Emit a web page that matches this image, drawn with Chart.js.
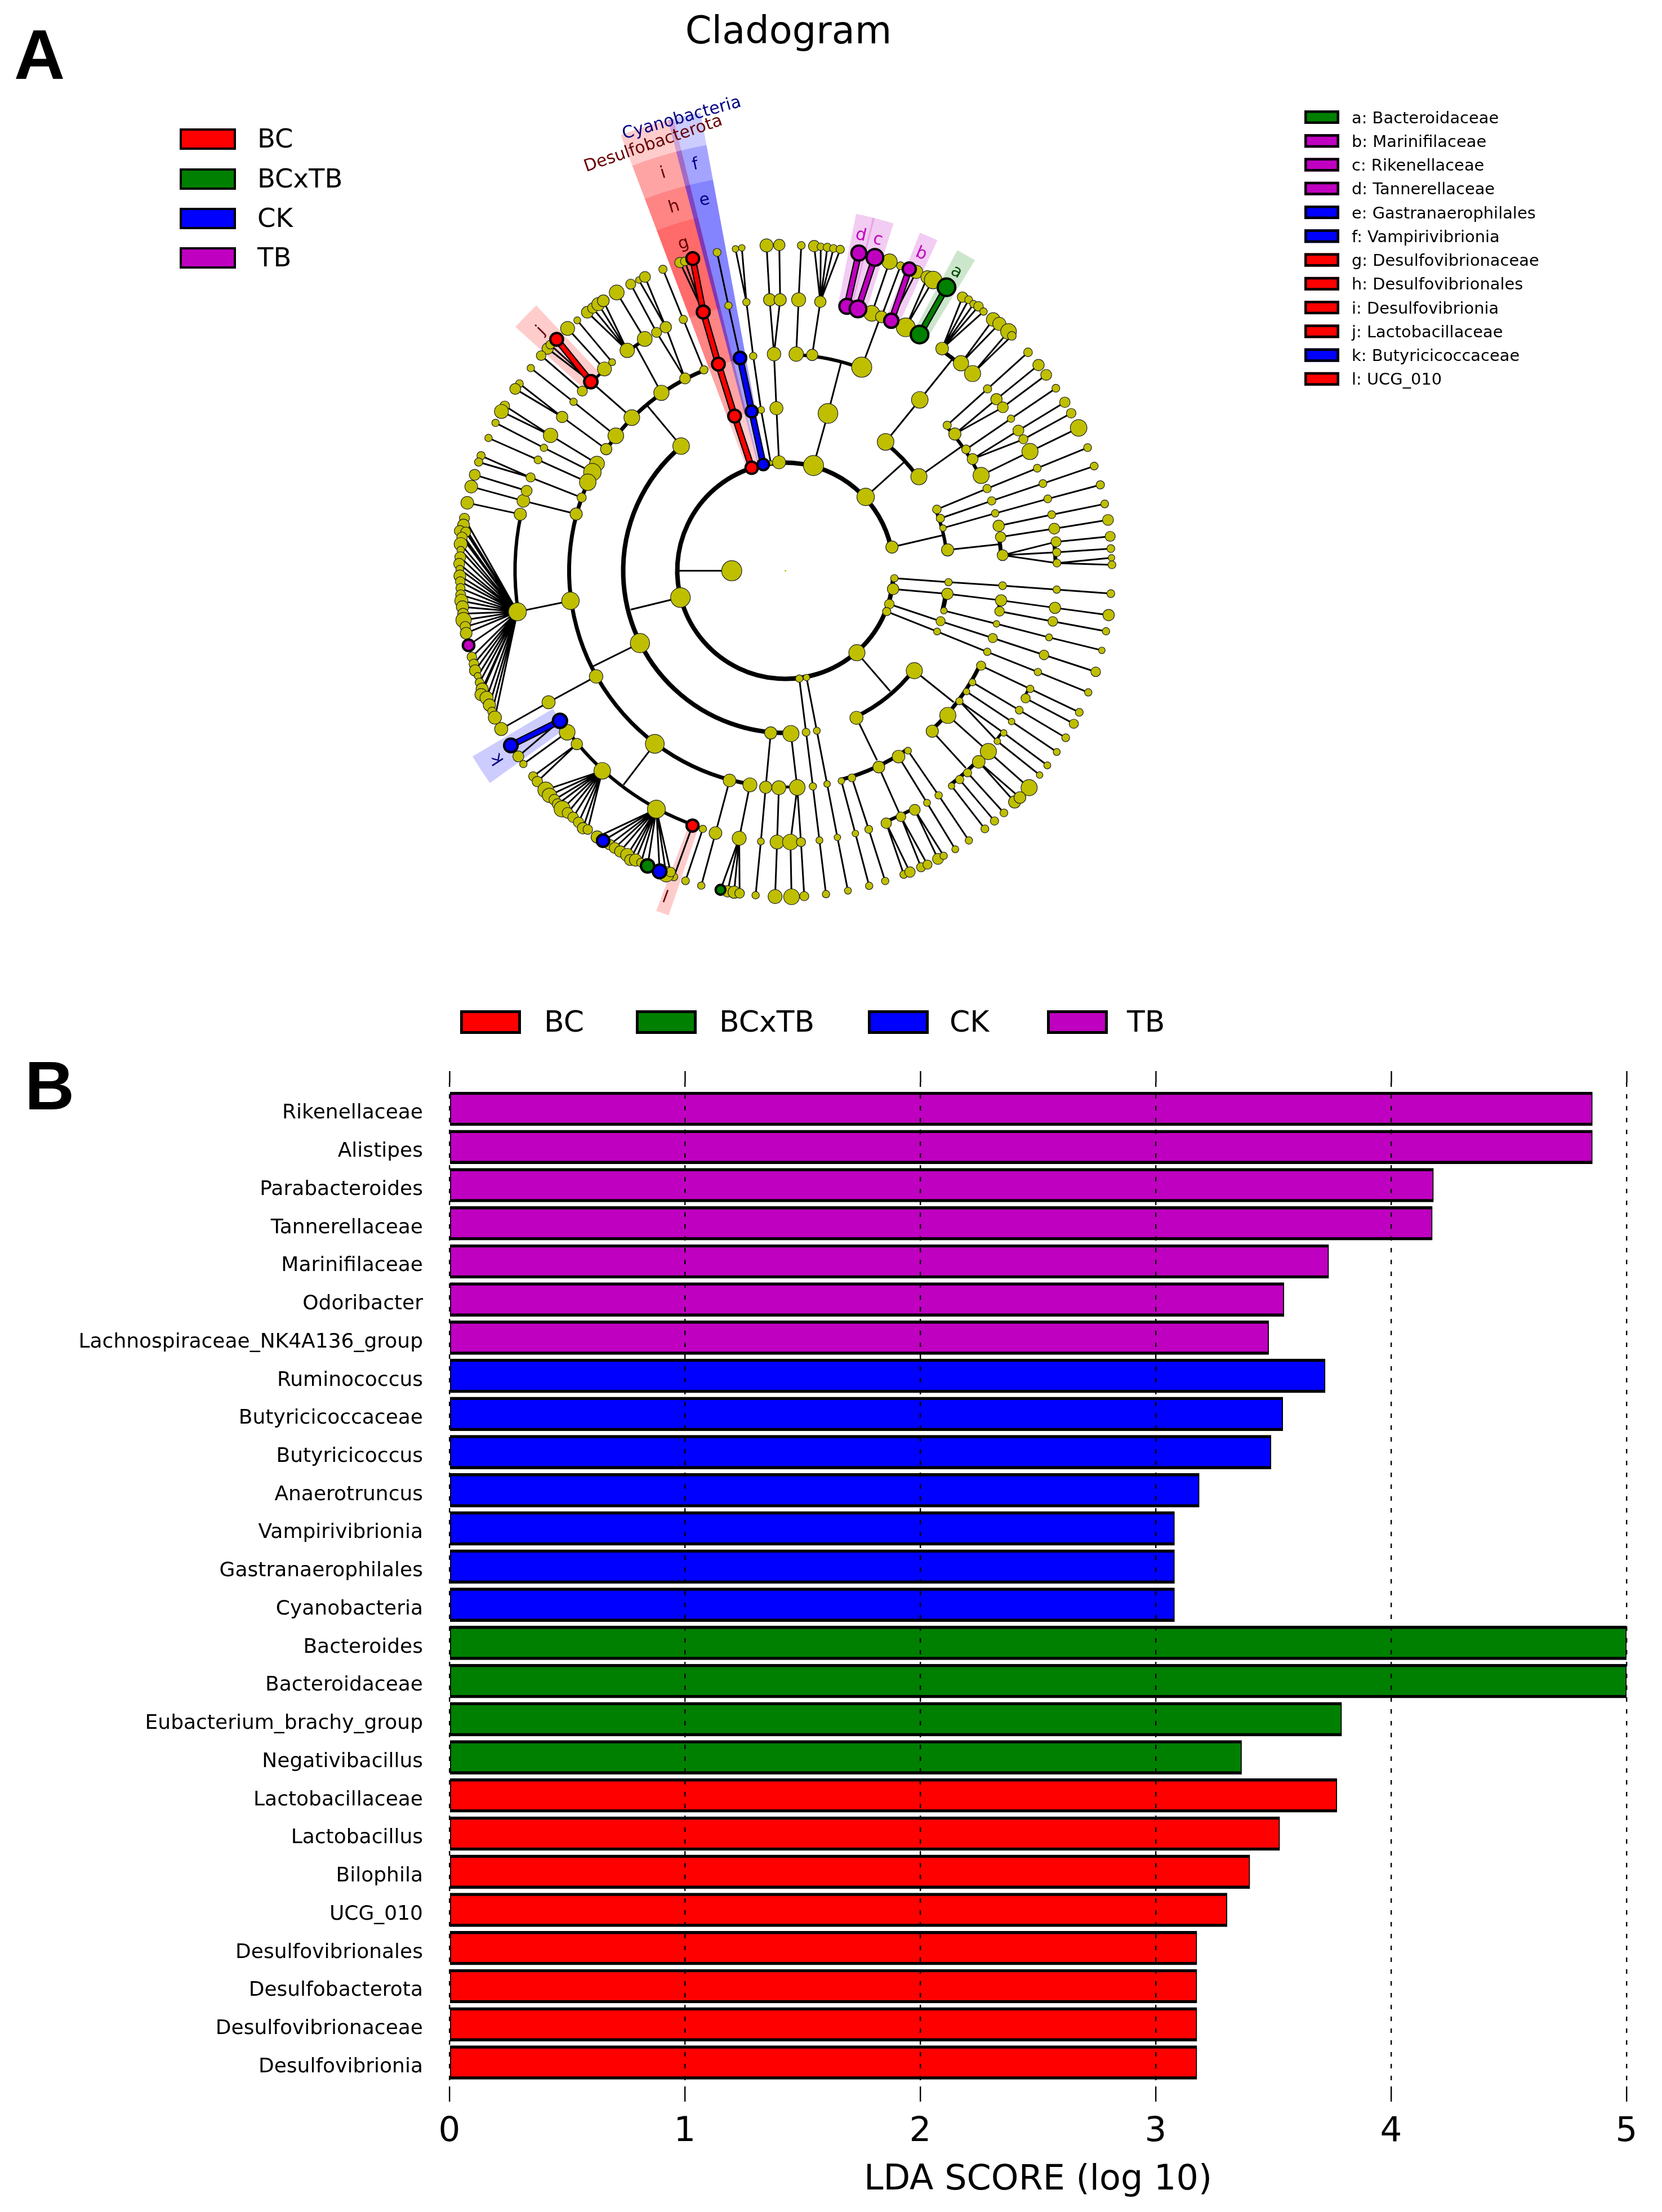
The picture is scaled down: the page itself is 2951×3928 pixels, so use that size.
<!DOCTYPE html>
<html>
<head>
<meta charset="utf-8">
<title>Cladogram and LDA scores</title>
<script src="https://cdn.jsdelivr.net/npm/chart.js@4/dist/chart.umd.js"></script>
<style>
  body { margin: 0; background: #fff; }
  canvas { position: absolute; left: 0; }
  #cladogram { top: 0; }
  #ldaBars { top: 1760px; }
</style>
</head>
<body>
<canvas id="cladogram" width="2951" height="1760"></canvas>
<canvas id="ldaBars" width="2951" height="2168"></canvas>
<script>
// ---- LDA bars ----
const tbTaxa = ["Rikenellaceae", "Alistipes", "Parabacteroides", "Tannerellaceae", "Marinifilaceae", "Odoribacter", "Lachnospiraceae_NK4A136_group"];
const tbScores = [4.855, 4.855, 4.18, 4.175, 3.735, 3.545, 3.48];
const ckTaxa = ["Ruminococcus", "Butyricicoccaceae", "Butyricicoccus", "Anaerotruncus", "Vampirivibrionia", "Gastranaerophilales", "Cyanobacteria"];
const ckScores = [3.72, 3.54, 3.49, 3.185, 3.08, 3.08, 3.08];
const bcxtbTaxa = ["Bacteroides", "Bacteroidaceae", "Eubacterium_brachy_group", "Negativibacillus"];
const bcxtbScores = [5.0, 5.0, 3.79, 3.365];
const bcTaxa = ["Lactobacillaceae", "Lactobacillus", "Bilophila", "UCG_010", "Desulfovibrionales", "Desulfobacterota", "Desulfovibrionaceae", "Desulfovibrionia"];
const bcScores = [3.77, 3.527, 3.4, 3.303, 3.175, 3.175, 3.175, 3.175];
const scoreTicks = [0, 1, 2, 3, 4, 5];

// ---- legends ----
const groupNames = ["BC", "BCxTB", "CK", "TB"];
const taxaKeyLabels = ["a: Bacteroidaceae", "b: Marinifilaceae", "c: Rikenellaceae", "d: Tannerellaceae", "e: Gastranaerophilales", "f: Vampirivibrionia", "g: Desulfovibrionaceae", "h: Desulfovibrionales", "i: Desulfovibrionia", "j: Lactobacillaceae", "k: Butyricicoccaceae", "l: UCG_010"];
const taxaKeyGroups = ["BCxTB", "TB", "TB", "TB", "CK", "CK", "BC", "BC", "BC", "BC", "CK", "BC"];

// ---- cladogram tree, read off four crops of panel A ----
// a node is [x, y, size] in crop units, size 0 is only a joint on a sibling arc
const nwPaths = [
  [[853,878,36],[666,714,34],[469,563,26]], [[666,714,34],[481,545,20]], [[627,757,23],[439,595,22]],
  [[728,656,32],[560,471,32]], [[763,625,16],[604,434,16]], [[780,961,36],[587,806,17],[392,652,17]],
  [[736,1022,26],[535,875,26],[340,723,18]], [[535,875,26],[321,747,25]],
  [[694,1088,34],[482,959,33],[273,824,22]], [[482,959,33],[258,850,32]],
  [[673,1127,40],[452,1016,17],[231,902,17]], [[652,1173,38],[425,1071,18],[199,971,17]],
  [[624,1243,21],[391,1151,21],[165,1052,19]], [[391,1151,21],[154,1081,19]],
  [[599,1318,28],[358,1258,29],[120,1193,29]], [[373,1212,25],[136,1139,25]], [[344,1319,28],[102,1267,29]],
  [[988,765,35],[870,548,0]], [[912,519,34],[784,307,34]],
  [[1096,699,25],[966,489,23],[848,269,23]], [[1096,699,25],[1008,465,26],[885,250,15]], [[1008,465,26],[913,236,25]],
  [[1182,660,19],[1088,430,19],[995,201,19]], [[1078,1008,38],[925,825,0]],
  [[1179,396,33],[1073,170,24]], [[1179,396,33],[1095,165,20]],
  [[1347,606,32],[1294,367,17],[1242,124,18]],
  [[1487,1085,10],[1443,843,16],[1407,597,17],[1376,351,17],[1326,108,15]], [[1376,351,17],[1355,103,15]],
  [[1525,1082,30],[1513,835,30],[1502,588,31],[1482,340,28],[1468,92,30]], [[1502,588,31],[1530,340,28],[1526,90,26]]
];
const nwFans = [
  [[832,571,33],[650,397,27],[675,378,24],[700,360,30],[723,345,27]]
];
const nePaths = [
  [[140,1097,46],[206,859,45],[265,630,0]], [[360,648,46],[437,440,0]], [[134,592,26],[171,349,26]],
  [[61,588,33],[72,340,32],[84,92,18]], [[378,1240,40],[555,1080,0]], [[469,989,38],[625,797,38],[775,610,0]],
  [[621,1148,37],[815,1010,0]],
  [[406,402,36],[487,166,35]], [[450,418,27],[537,185,18]], [[495,436,36],[609,213,30]],
  [[561,466,43],[660,237,30]], [[561,466,43],[686,250,40]],
  [[813,630,35],[960,430,31]], [[813,630,35],[988,450,30]], [[866,677,37],[1030,485,36]], [[866,677,37],[1045,505,20]],
  [[750,913,19],[934,747,19],[1119,580,20]], [[785,953,28],[975,794,26],[1167,638,26]], [[785,953,28],[1004,831,25],[1202,683,25]],
  [[836,1023,20],[1041,883,17],[1246,744,18]], [[866,1067,25],[1075,937,25],[1287,808,24]], [[866,1067,25],[1098,977,21],[1316,858,22]],
  [[905,1142,37],[1128,1033,37],[1350,925,38]],
  [[703,1297,20],[932,1202,19],[1161,1109,18],[1391,1015,18]], [[719,1338,19],[953,1258,19],[1187,1179,18],[1421,1099,18]],
  [[731,1382,15],[969,1315,17],[1209,1249,18],[1449,1185,19]],
  [[498,1469,28],[730,1415,0]], [[752,1482,28],[1000,1455,0]],
  [[985,1372,26],[1227,1321,18],[1469,1272,18]], [[994,1423,24],[1239,1385,25],[1484,1345,25]],
  [[1003,1506,25],[1247,1445,23],[1494,1420,23]], [[1003,1506,25],[1250,1493,19],[1497,1476,18]],
  [[1003,1506,25],[1251,1542,18],[1500,1518,15]], [[1251,1542,18],[1502,1550,18]]
];
const neFans = [
  [[171,349,26],[143,95,26],[173,98,17],[203,101,19],[231,106,18],[262,110,19]],
  [[727,563,29],[820,328,24],[848,340,18],[870,360,17],[893,370,22],[916,394,17]]
];
const swPaths = [
  [[1075,157,45],[848,212,0]], [[890,365,44],[678,470,0]], [[1309,35,46],[1060,35,0]], [[573,172,40],[331,222,41]],
  [[690,517,31],[473,635,30],[257,757,30]], [[958,825,43],[815,1012,0]],
  [[1487,775,28],[1464,1023,28]], [[1579,778,37],[1608,1024,36]],
  [[602,826,26],[403,973,21]], [[602,826,26],[422,997,24]], [[558,772,36],[358,917,17]], [[525,720,36],[335,882,25]],
  [[1130,1198,31],[1045,1432,18]], [[1177,1213,17],[1098,1450,18]],
  [[1299,992,29],[1235,1232,29],[1170,1472,17]], [[1392,1012,32],[1343,1256,32]],
  [[1464,1023,28],[1442,1270,16],[1418,1516,17]], [[1524,1025,32],[1516,1273,32],[1507,1522,32]],
  [[1608,1024,36],[1577,1273,36],[1582,1523,36]], [[1608,1024,36],[1625,1273,21],[1640,1520,21]]
];
const swFans = [
  [[331,222,41],[89,-205,23],[85,-174,27],[68,-147,25],[95,-142,23],[78,-118,24],[72,-87,30],[72,-60,17],[70,-27,25],[65,3,25],[68,28,18],[68,58,27],[70,84,22],[71,114,21],[72,145,23],[75,172,30],[80,200,28],[83,231,25],[85,260,35],[93,290,24],[97,320,27],[108,375,30],[123,428,22],[132,460,22],[138,490,26],[150,515,16],[158,545,20],[170,575,28],[165,600,28],[190,615,30],[203,648,28],[215,677,20],[228,705,30]],
  [[718,948,38],[460,1035,36],[477,1060,33],[500,1080,25],[515,1100,25],[535,1122,37],[560,1140,25],[585,1160,24],[610,1183,24],[630,1210,26],[652,1216,22]],
  [[965,1123,41],[695,1250,28],[722,1267,32],[752,1285,24],[775,1300,25],[800,1316,26],[832,1332,30],[845,1355,25],[870,1355,28],[895,1367,20],[925,1382,34],[980,1407,35],[1010,1420,35],[1030,1410,22]],
  [[1343,1256,32],[1258,1491,26],[1290,1498,26],[1320,1502,28],[1345,1507,22]]
];
const sePaths = [
  [[509,69,17],[756,87,17],[1003,103,18],[1250,121,17],[1497,139,18]],
  [[503,118,26],[751,140,26],[996,170,26],[1242,204,26],[1487,237,26]],
  [[735,217,15],[975,277,15],[1215,339,16],[1456,398,15]], [[989,220,22],[1232,266,22],[1475,311,17]],
  [[486,187,22],[720,265,21],[958,342,21],[1192,419,22],[1428,496,22]],
  [[474,221,19],[704,312,16],[933,405,17],[1164,497,17],[1394,590,17]],
  [[905,468,21],[1129,574,17],[1353,681,18]], [[1108,617,21],[1328,733,21]],
  [[865,544,16],[1079,671,18],[1291,797,18]], [[838,586,15],[1044,723,15],[1250,862,16]],
  [[806,630,17],[1008,775,15],[1207,923,16]], [[806,630,17],[979,813,15],[1172,967,15]],
  [[753,695,37],[938,860,37],[1124,1025,37]], [[682,767,28],[835,935,0]],
  [[894,907,29],[1058,1090,28]], [[894,907,29],[1082,1070,27]], [[843,957,19],[1009,1140,18]],
  [[807,988,19],[966,1177,19]], [[770,1017,15],[922,1213,18]],
  [[600,491,37],[780,635,0]], [[338,409,37],[490,585,0]], [[336,706,30],[430,900,0]],
  [[571,856,16],[711,1060,17],[849,1266,17]], [[528,883,29],[658,1094,16],[787,1306,16]],
  [[438,931,27],[539,1158,22]], [[472,1187,24],[552,1421,18]], [[472,1187,24],[580,1410,24]],
  [[539,1158,22],[631,1388,21]], [[539,1158,22],[660,1376,21]], [[602,1126,25],[708,1350,25]], [[602,1126,25],[734,1336,17]],
  [[315,980,18],[392,1215,18],[467,1451,17]], [[267,994,15],[331,1234,15],[394,1473,17]],
  [[108,522,15],[155,765,16],[202,1008,15],[249,1252,15],[297,1495,16]],
  [[75,527,17],[106,772,18],[137,1019,17],[167,1265,16],[197,1511,17]]
];
// enriched clades: [group, crop column, crop row, path]
const enrichedPaths = [
  ["BC", 0, 0, [[1400,1107,32],[1322,871,33],[1248,634,33],[1179,396,33],[1131,152,33]]],
  ["BC", 0, 0, [[666,714,34],[510,521,33]]],
  ["BC", 0, 1, [[1130,1198,31]]],
  ["CK", 0, 0, [[1453,1092,30],[1400,850,31],[1347,606,32]]],
  ["CK", 0, 1, [[525,720,36],[301,832,35]]],
  ["CK", 0, 1, [[722,1267,32]]],
  ["CK", 0, 1, [[980,1407,35]]],
  ["TB", 1, 0, [[292,370,38],[347,127,38]]],
  ["TB", 1, 0, [[343,382,42],[420,147,42]]],
  ["TB", 1, 0, [[495,436,36],[577,200,34]]],
  ["TB", 0, 1, [[108,375,30]]],
  ["BCxTB", 1, 0, [[624,499,44],[747,283,44]]],
  ["BCxTB", 0, 1, [[925,1382,34]]],
  ["BCxTB", 0, 1, [[1258,1491,26]]]
];
// sibling arcs: [ring radius, from degree, to degree, line width], degrees clockwise from 12 o'clock
const siblingArcs = [
  [192, 93.9, 437.5, 8], [288, 178, 320.1, 8], [288, 37.9, 54.8, 7], [288, 127.8, 154.2, 7], [288, 67.9, 82.7, 6], [288, 98.1, 104.1, 8],
  [384, 304.2, 337.9, 7], [384, 189.4, 299.6, 7], [384, 176.9, 183, 5], [384, 2.9, 20.5, 6], [384, 48, 64, 6],
  [384, 81.1, 85.9, 7], [384, 145.8, 165.1, 7], [384, 115.9, 137.5, 7], [384, 97.8, 100.7, 5],
  [480, 83.9, 88.4, 7], [480, 151.6, 158.2, 6], [480, 115.8, 117.9, 5], [480, 126.6, 128.8, 5], [480, 134.7, 142.3, 7],
  [480, 35.2, 41, 7], [480, 324.4, 328.8, 6], [480, 311.5, 318.1, 5], [480, 261.3, 282, 6], [480, 200, 232, 6]
];
// shaded sectors: [group, from degree, to degree, inner radius, outer radius]
const cladeSectors = [
  ["BC", -20.7, -13.9, 192, 827], ["BC", -20.7, -13.9, 288, 769], ["BC", -20.7, -13.9, 384, 706], ["BC", -20.7, -13.9, 480, 646],
  ["CK", -14.6, -10.5, 192, 827], ["CK", -14.6, -10.5, 288, 769], ["CK", -14.6, -10.5, 384, 706],
  ["BC", -47.9, -43.2, 480, 646], ["BCxTB", 28.2, 31.4, 480, 646], ["TB", 21.7, 24.7, 480, 646],
  ["TB", 13.9, 17.3, 480, 646], ["TB", 11.2, 14.2, 480, 646], ["CK", -125.7, -120.7, 480, 646], ["BC", -161.3, -159.2, 480, 646]
];
// clade labels: [text, degree, radius, rotation, colour]
const cladeLabels = [
  ["a", 29.8, 611, 29.8, "#044a04"], ["b", 23.2, 612, 23.2, "#c000c0"], ["c", 15.6, 610, 15.6, "#c000c0"], ["d", 12.7, 610, 12.7, "#c000c0"],
  ["e", -12.3, 673, -12.3, "#000080"], ["f", -12.5, 738, -12.5, "#000080"], ["g", -17.3, 608, -17.3, "#660000"],
  ["h", -17, 675, -17, "#660000"], ["i", -17.1, 738, -17.1, "#660000"], ["j", -45.5, 608, -45.5, "#660000"],
  ["k", -123.2, 610, -123.2, "#000080"], ["l", -159.8, 612, -159.8, "#660000"],
  ["Cyanobacteria", -12.9, 824, -15.5, "#000080"], ["Desulfobacterota", -17.2, 793, -19, "#660000"]
];

const FONT = '"DejaVu Sans"';
const GROUP_COLORS = { BC: "#ff0000", BCxTB: "#008000", CK: "#0000ff", TB: "#c000c0" };
const SECTOR_COLORS = { BC: "rgba(255,0,0,0.2)", BCxTB: "rgba(0,128,0,0.2)", CK: "rgba(0,0,255,0.2)", TB: "rgba(192,0,192,0.2)" };
const NODE_YELLOW = "#bfbf00";

// crop coordinates -> pixels around the cladogram centre
const CROP_SCALE = 1568 / 610;
const CENTER_X = 1394.5, CENTER_Y = 1013.5;

function toChartPoint(p, col, row) {
  return {
    x: 790 + col * 600 + p[0] / CROP_SCALE - CENTER_X,
    y: 400 + row * 600 + p[1] / CROP_SCALE - CENTER_Y,
    r: p[2] / CROP_SCALE
  };
}

function fanToPaths(fans) {
  let paths = [];
  fans.forEach(function (fan) {
    fan.slice(1).forEach(function (leaf) { paths.push([fan[0], leaf]); });
  });
  return paths;
}

function buildTree() {
  const quadrants = [
    [nwPaths.concat(fanToPaths(nwFans)), 0, 0],
    [nePaths.concat(fanToPaths(neFans)), 1, 0],
    [swPaths.concat(fanToPaths(swFans)), 0, 1],
    [sePaths, 1, 1]
  ];
  let edges = [], nodes = [], seen = {};
  quadrants.forEach(function (q) {
    q[0].forEach(function (path) {
      path.forEach(function (p) {
        const pt = toChartPoint(p, q[1], q[2]);
        edges.push({ x: pt.x, y: pt.y });
        const key = q[1] + "," + q[2] + "," + p[0] + "," + p[1];
        if (p[2] > 0 && !seen[key]) {
          seen[key] = true;
          nodes.push(pt);
        }
      });
      edges.push({ x: NaN, y: NaN });
    });
  });
  return { edges: edges, nodes: nodes };
}

function lineDataset(points, color, width, order) {
  return {
    type: "scatter", showLine: true, data: points, borderColor: color, borderWidth: width,
    pointRadius: 0, spanGaps: false, order: order, clip: false
  };
}

function cladogramDatasets() {
  const tree = buildTree();
  let datasets = [
    lineDataset(tree.edges, "#000", 3, 6),
    { data: tree.nodes, backgroundColor: NODE_YELLOW, borderColor: "#222", borderWidth: 1.2, order: 3, clip: false },
    { data: [{ x: 0, y: 0, r: 1.5 }], backgroundColor: NODE_YELLOW, borderWidth: 0, order: 3 }
  ];
  groupNames.forEach(function (group) {
    let thick = [], marks = [];
    enrichedPaths.filter(function (e) { return e[0] === group; }).forEach(function (e) {
      e[3].forEach(function (p) {
        const pt = toChartPoint(p, e[1], e[2]);
        thick.push({ x: pt.x, y: pt.y });
        marks.push({ x: pt.x, y: pt.y, r: pt.r - 1.5 });
      });
      thick.push({ x: NaN, y: NaN });
    });
    datasets.push(lineDataset(thick, "#000", 12, 5));
    datasets.push(lineDataset(thick, GROUP_COLORS[group], 7.5, 4));
    datasets.push({ data: marks, backgroundColor: GROUP_COLORS[group], borderColor: "#000", borderWidth: 4, order: 1, clip: false });
  });
  return datasets;
}

// canvas angle for a degree measured clockwise from 12 o'clock
function canvasAngle(deg) {
  return (deg - 90) * Math.PI / 180;
}

function boxLegend(id, names, colors, xs, ys, boxW, boxH, textXs, border, fontSize) {
  return {
    id: id,
    afterDraw: function (chart) {
      const ctx = chart.ctx;
      ctx.save();
      ctx.font = fontSize + "px " + FONT;
      ctx.textBaseline = "middle";
      names.forEach(function (name, i) {
        ctx.fillStyle = colors[i];
        ctx.fillRect(xs[i], ys[i], boxW, boxH);
        ctx.strokeStyle = "#000";
        ctx.lineWidth = border;
        ctx.strokeRect(xs[i] + border / 2, ys[i] + border / 2, boxW - border, boxH - border);
        ctx.fillStyle = "#000";
        ctx.fillText(name, textXs[i], ys[i] + boxH / 2 + 3);
      });
      ctx.restore();
    }
  };
}

const cladePaint = {
  id: "cladePaint",
  beforeDatasetsDraw: function (chart) {
    const ctx = chart.ctx, sx = chart.scales.x, sy = chart.scales.y;
    const cx = sx.getPixelForValue(0), cy = sy.getPixelForValue(0);
    ctx.save();
    cladeSectors.forEach(function (s) {
      const r0 = sx.getPixelForValue(s[3]) - cx, r1 = sx.getPixelForValue(s[4]) - cx;
      ctx.beginPath();
      ctx.arc(cx, cy, r1, canvasAngle(s[1]), canvasAngle(s[2]));
      ctx.arc(cx, cy, r0, canvasAngle(s[2]), canvasAngle(s[1]), true);
      ctx.closePath();
      ctx.fillStyle = SECTOR_COLORS[s[0]];
      ctx.fill();
    });
    ctx.strokeStyle = "#000";
    siblingArcs.forEach(function (a) {
      ctx.beginPath();
      ctx.lineWidth = a[3];
      ctx.arc(cx, cy, sx.getPixelForValue(a[0]) - cx, canvasAngle(a[1]), canvasAngle(a[2]));
      ctx.stroke();
    });
    ctx.restore();
  },
  afterDatasetsDraw: function (chart) {
    const ctx = chart.ctx, sx = chart.scales.x, sy = chart.scales.y;
    ctx.save();
    ctx.textAlign = "center";
    ctx.textBaseline = "middle";
    ctx.font = "30px " + FONT;
    cladeLabels.forEach(function (l) {
      const a = canvasAngle(l[1]);
      ctx.save();
      ctx.translate(sx.getPixelForValue(l[2] * Math.cos(a)), sy.getPixelForValue(l[2] * Math.sin(a)));
      ctx.rotate(l[3] * Math.PI / 180);
      ctx.fillStyle = l[4];
      ctx.fillText(l[0], 0, 0);
      ctx.restore();
    });
    ctx.fillStyle = "#000";
    ctx.font = "67px " + FONT;
    ctx.fillText("Cladogram", 1400, 60);
    ctx.textAlign = "left";
    ctx.textBaseline = "alphabetic";
    ctx.font = 'bold 125px "Liberation Sans"';
    ctx.fillText("A", 25, 140);
    ctx.restore();
  }
};

new Chart(document.getElementById("cladogram"), {
  type: "bubble",
  data: { datasets: cladogramDatasets() },
  options: {
    responsive: false,
    animation: false,
    devicePixelRatio: 1,
    events: [],
    layout: { padding: 0, autoPadding: false },
    plugins: { legend: { display: false }, tooltip: { enabled: false } },
    scales: {
      x: { type: "linear", display: false, min: -CENTER_X, max: 2951 - CENTER_X },
      y: { type: "linear", display: false, reverse: true, min: -CENTER_Y, max: 1760 - CENTER_Y }
    }
  },
  plugins: [
    cladePaint,
    boxLegend("groupKey", groupNames, groupNames.map(function (g) { return GROUP_COLORS[g]; }),
      [319, 319, 319, 319], [228, 299, 369, 439], 100, 38, [457, 457, 457, 457], 4, 46.5),
    boxLegend("taxaKey", taxaKeyLabels, taxaKeyGroups.map(function (g) { return GROUP_COLORS[g]; }),
      taxaKeyLabels.map(function () { return 2316; }),
      taxaKeyLabels.map(function (t, i) { return 196 + i * 42.26; }), 62, 24,
      taxaKeyLabels.map(function () { return 2400; }), 4.5, 28.9)
  ]
});

// ---- panel B ----
const rowNames = tbTaxa.concat(ckTaxa, bcxtbTaxa, bcTaxa);

function barDataset(group, scores, firstRow) {
  return {
    label: group,
    data: scores.map(function (v, i) { return { x: v, y: firstRow + i }; }),
    backgroundColor: GROUP_COLORS[group],
    borderColor: "#000",
    borderWidth: { top: 5.5, bottom: 5.5, left: 2, right: 2 },
    borderSkipped: false,
    barThickness: 60,
    grouped: false
  };
}

const panelLetter = {
  id: "panelLetter",
  afterDraw: function (chart) {
    const ctx = chart.ctx;
    ctx.save();
    ctx.fillStyle = "#000";
    ctx.font = 'bold 122px "Liberation Sans"';
    ctx.fillText("B", 44, 210);
    ctx.restore();
  }
};

new Chart(document.getElementById("ldaBars"), {
  type: "bar",
  data: {
    datasets: [
      barDataset("TB", tbScores, 0),
      barDataset("CK", ckScores, tbTaxa.length),
      barDataset("BCxTB", bcxtbScores, tbTaxa.length + ckTaxa.length),
      barDataset("BC", bcScores, tbTaxa.length + ckTaxa.length + bcxtbTaxa.length)
    ]
  },
  options: {
    indexAxis: "y",
    responsive: false,
    animation: false,
    devicePixelRatio: 1,
    events: [],
    layout: { padding: { left: 0, right: 63, top: 0, bottom: 0 }, autoPadding: false },
    plugins: { legend: { display: false }, tooltip: { enabled: false } },
    scales: {
      y: {
        type: "linear",
        offset: false,
        reverse: true,
        min: -0.694,
        max: 25.628,
        afterBuildTicks: function (scale) {
          scale.ticks = rowNames.map(function (n, i) { return { value: i }; });
        },
        afterFit: function (scale) { scale.width = 798; },
        ticks: {
          autoSkip: false,
          padding: 47,
          labelOffset: 8,
          color: "#000",
          font: { family: FONT, size: 36 },
          callback: function (value) { return rowNames[value]; }
        },
        grid: { display: false, drawTicks: false },
        border: { display: false }
      },
      x: {
        type: "linear",
        position: "bottom",
        min: scoreTicks[0],
        max: scoreTicks[scoreTicks.length - 1],
        afterFit: function (scale) { scale.height = 223; },
        ticks: { stepSize: 1, padding: 18, maxRotation: 0, color: "#000", font: { family: FONT, size: 61 } },
        grid: { z: 1, color: "#000", lineWidth: 2.4, tickLength: 27, tickColor: "#000", tickWidth: 2.4 },
        border: { display: false, dash: [8, 13] },
        title: {
          display: true,
          text: "LDA SCORE (log 10)",
          color: "#000",
          font: { family: FONT, size: 62 },
          padding: { top: 0, bottom: 19 }
        }
      },
      x2: {
        type: "linear",
        position: "top",
        min: scoreTicks[0],
        max: scoreTicks[scoreTicks.length - 1],
        afterFit: function (scale) { scale.height = 162; },
        ticks: { display: false, stepSize: 1 },
        grid: { z: 1, drawOnChartArea: false, tickLength: 20, tickColor: "#000", tickWidth: 2.4 },
        border: { display: false }
      }
    }
  },
  plugins: [
    panelLetter,
    boxLegend("groupRow", groupNames, groupNames.map(function (g) { return GROUP_COLORS[g]; }),
      [817, 1129, 1541, 1859], [34, 34, 34, 34], 108, 42, [966, 1277, 1686, 2001], 5, 52)
  ]
});
</script>
</body>
</html>
